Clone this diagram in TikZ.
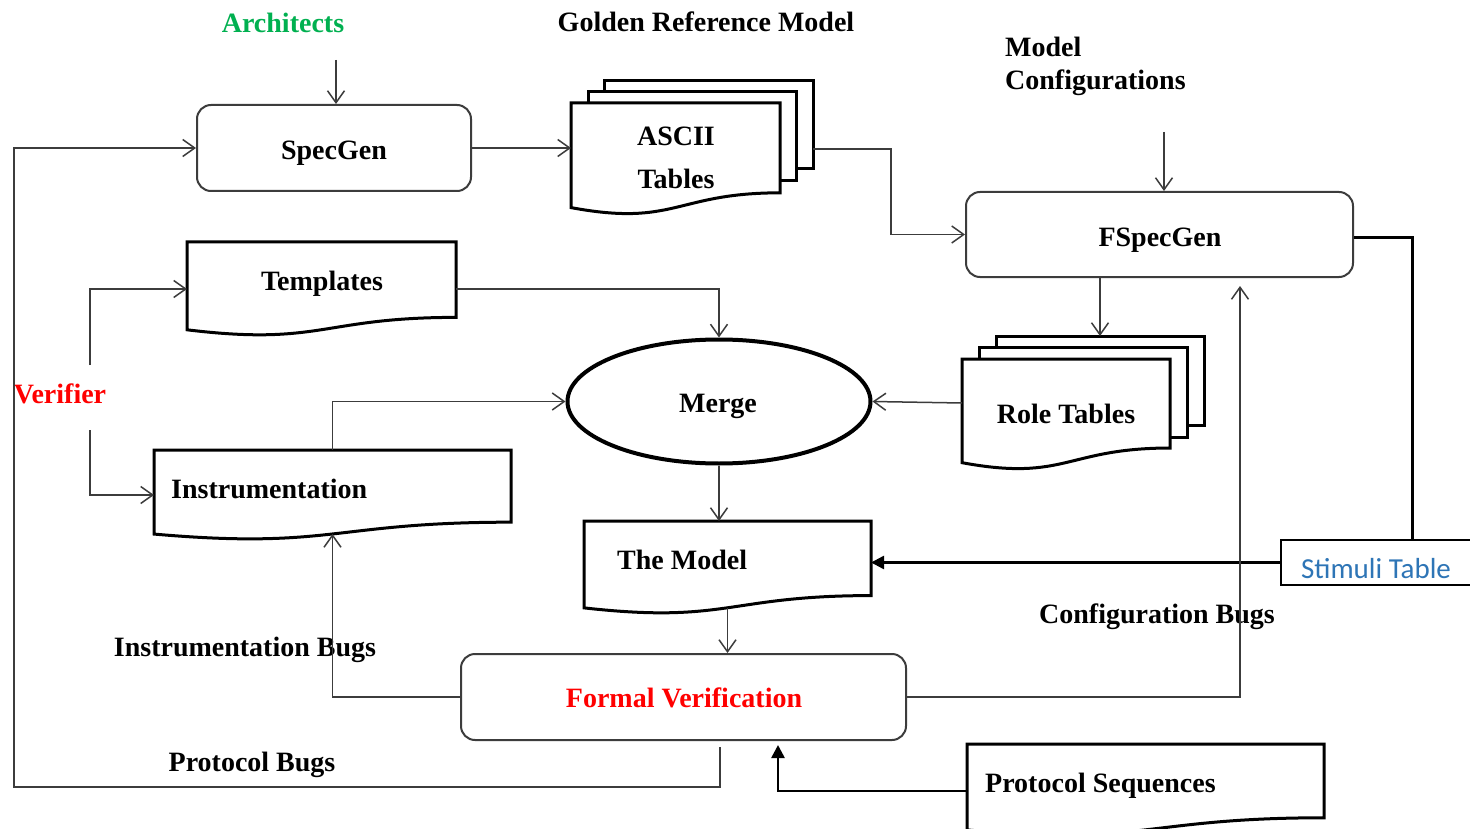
\documentclass[tikz,border=0pt]{standalone}
\usepackage{fontspec}
\setmainfont{Liberation Serif}
\newfontfamily\calibrifont{Carlito}
\usetikzlibrary{arrows.meta,shapes.geometric}
\definecolor{archgreen}{HTML}{00B050}
\definecolor{stimblue}{HTML}{2E75B6}
\definecolor{wire}{HTML}{3C3C3C}

% document shape: x, y (top-left), width, height
\newcommand{\docshape}[4]{%
  \draw[docline] (#1,#2) -- ({#1+#3},#2) -- ({#1+#3},{#2+0.802*#4})
    .. controls ({#1+0.5*#3},{#2+0.802*#4}) and ({#1+0.5*#3},{#2+1.1075*#4}) ..
    (#1,{#2+0.934*#4}) -- cycle;}
% plain page behind a stack
\newcommand{\pageshape}[4]{%
  \draw[docline] (#1,#2) rectangle ({#1+#3},{#2+#4});}

\begin{document}
\begin{tikzpicture}[x=1pt,y=-1pt,
  lbl/.style={font=\fontsize{28}{33}\selectfont\bfseries, inner sep=0pt,
    text height=18.5pt, text depth=0pt},
  rbox/.style={draw=wire, line width=2pt, rounded corners=14pt, fill=white},
  docline/.style={draw=black, line width=3pt, fill=white, line join=miter},
  frame/.style={inner sep=0pt, outer sep=0pt},
  conn/.style={draw=wire, line width=1.5pt,
    -{Straight Barb[length=12pt,width=17pt,line width=1.5pt]}},
  heavy/.style={draw=black, line width=3pt},
  solidarrow/.style={draw=black, line width=2.5pt,
    -{Triangle[length=13pt,width=13pt]}},
]
\useasboundingbox[fill=white] (0,0) rectangle (1470,829);

% ---------- SpecGen ----------
\node[rbox, minimum width=274pt, minimum height=86pt] (specgen) at (334,148) {};
\node[lbl] (specgentxt) at (334,150) {SpecGen};
\node[lbl, text=archgreen] (arch) at (283,23) {Architects};
\coordinate (archin) at (336,60);

% ---------- ASCII tables (stack) ----------
\pageshape{604}{81}{209}{88}
\pageshape{588}{92}{208}{89}
\docshape{571}{103}{209}{112}
\node[frame, minimum width=209pt, minimum height=104pt] (ascii) at (675.5,155) {};
\node[frame, minimum width=209pt, minimum height=88pt] (asciiback) at (708.5,125) {};
\node[lbl] (asciitxt) at (676,136) {ASCII};
\node[lbl] (tablestxt) at (676,179) {Tables};
\node[lbl] (golden) at (706,22) {Golden Reference Model};

% ---------- FSpecGen ----------
\node[rbox, minimum width=387pt, minimum height=85pt] (fspecgen) at (1159.5,234.5) {};
\node[lbl] (fspecgentxt) at (1160,237) {FSpecGen};
\node[lbl, anchor=west] (mconf) at (1005,47) {Model};
\node[lbl, anchor=west] (mconf2) at (1005,80) {Configurations};
\coordinate (mconfin) at (1164,132);

% ---------- Role tables (stack) ----------
\pageshape{996}{336}{208}{89}
\pageshape{979}{347}{208}{90}
\docshape{962}{359}{208}{111}
\node[frame, minimum width=208pt, minimum height=88pt] (roles) at (1066,403) {};
\node[frame, minimum width=208pt, minimum height=89pt] (rolesback) at (1100,380.5) {};
\node[lbl] (rolestxt) at (1066,414) {Role Tables};

% ---------- Templates ----------
\docshape{187}{242}{269}{94}
\node[frame, minimum width=269pt, minimum height=94pt] (tmpl) at (321.5,289) {};
\node[lbl] (tmpltxt) at (322,281) {Templates};

% ---------- Merge ----------
\node[draw=black, line width=4pt, ellipse, fill=white, inner sep=0pt,
  minimum width=303pt, minimum height=124pt] (merge) at (719,401.5) {};
\node[lbl] (mergetxt) at (718,403) {Merge};

% ---------- Verifier ----------
\node[lbl, text=red] (verif) at (60,394) {Verifier};
\coordinate (vup) at (90,365);
\coordinate (vdn) at (90,430);

% ---------- Instrumentation ----------
\docshape{154}{450}{357}{90}
\node[frame, minimum width=357pt, minimum height=84pt] (instr) at (332.5,492) {};
\node[lbl, anchor=west] (instrtxt) at (171,489) {Instrumentation};

% ---------- The Model ----------
\docshape{584}{521}{287}{93}
\node[frame, minimum width=287pt, minimum height=87pt] (model) at (727.5,564.5) {};
\node[lbl, anchor=west] (modeltxt) at (617,560) {The Model};

% ---------- Stimuli table ----------
\node[draw=black, line width=2pt, fill=white, inner sep=0pt,
  minimum width=196pt, minimum height=45pt] (stim) at (1379,562.5) {};
\node[inner sep=0pt, font=\calibrifont\fontsize{29}{34}\selectfont, text=stimblue,
  text height=19pt, text depth=0pt] (stimtxt) at (1376,569) {Stimuli Table};
\coordinate (stimj) at (1412,238);

% ---------- Formal verification ----------
\node[rbox, minimum width=445pt, minimum height=86pt] (fv) at (683.5,697) {};
\node[lbl, text=red] (fvtxt) at (684,698) {Formal Verification};

% ---------- Protocol sequences ----------
\docshape{967}{744}{357}{92}
\node[frame, minimum width=357pt, minimum height=94pt] (prot) at (1145.5,791) {};
\node[lbl, anchor=west] (prottxt) at (985,783) {Protocol Sequences};
\coordinate (protin) at (778,745);

% ---------- bug labels ----------
\node[lbl] (cfgbugs) at (1157,614) {Configuration Bugs};
\node[lbl] (instbugs) at (245,647) {Instrumentation Bugs};
\node[lbl] (protbugs) at (252,762) {Protocol Bugs};
\coordinate (cfgx) at (1240,0);
\coordinate (pbtop) at (720,747);
\coordinate (pbcorner) at (14,787);
\coordinate (asciij) at (891,149);

% ---------- connectors ----------
\draw[conn] (archin) -- (archin |- specgen.north);
\draw[conn] (specgen.east) -- (specgen.east -| ascii.west);
\draw[conn] (asciiback.east |- asciij) -- (asciij) |- (fspecgen.west);
\draw[conn] (mconfin) -- (mconfin |- fspecgen.north);
\draw[conn] (fspecgen.south -| rolesback.north) -- (rolesback.north);
\draw[conn] (roles.west) -- (merge.east);
\draw[conn] (tmpl.east) -| (merge.north);
\draw[conn] (vup) |- (tmpl.west);
\draw[conn] (vdn) |- ([yshift=-3pt]instr.west);
\draw[conn] (instr.north) |- (merge.west);
\draw[conn] (merge.south) -- (merge.south |- model.north);
\draw[conn] (model.south) -- (model.south |- fv.north);
\draw[heavy] (fspecgen.east |- stimj) -- (stimj) -- (stimj |- stim.north);
\draw[solidarrow] (stim.west) -- (stim.west -| model.east);
\draw[conn, shorten >=8pt] (fv.east) -| (cfgx |- fspecgen.south);
\draw[conn] (fv.west) -| (instr.south);
\draw[conn] (pbtop) |- (pbcorner) |- (specgen.west);
\draw[solidarrow] (prot.west) -| (protin);
\end{tikzpicture}
\end{document}
